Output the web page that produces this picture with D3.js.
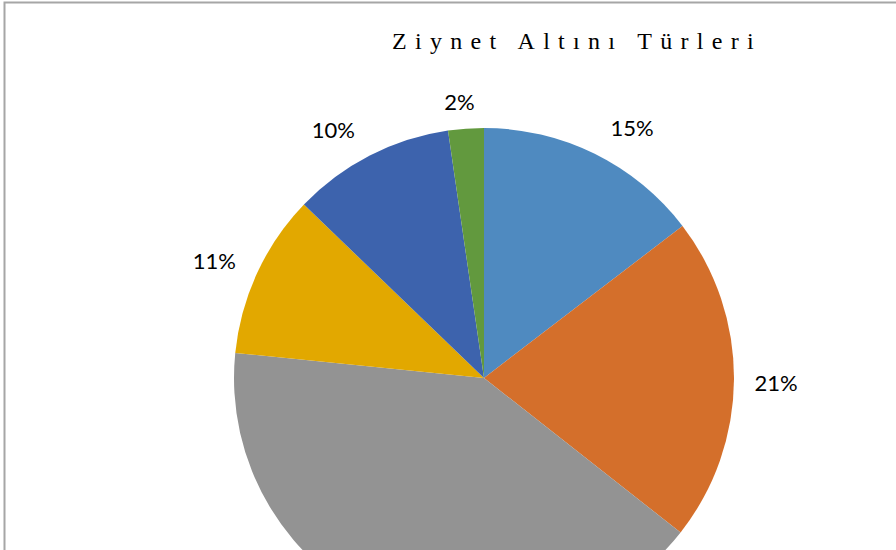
<!DOCTYPE html>
<html><head><meta charset="utf-8">
<script src="https://cdn.jsdelivr.net/npm/d3@7/dist/d3.min.js"></script>
<style>html,body{margin:0;padding:0;background:#fff;overflow:hidden}</style>
</head><body>
<svg id="c" width="896" height="550"></svg>
<script>
const title = "Ziynet Altını Türleri";
const categories = ["A","B","C","D","E","F"];
const values = [14.6, 21.0, 41.0, 10.6, 10.5, 2.3];
const labels = ["15%","21%","41%","11%","10%","2%"];
const colors = ["#4F8AC0","#D46F2B","#939393","#E2A800","#3D63AD","#62993E"];

const W = 896, H = 550;
const svg = d3.select("#c");
svg.append("path").attr("d","M4.5,550 V2.5 H896").attr("fill","none").attr("stroke","#a6a6a6").attr("stroke-width",2);

const cx = 484, cy = 378, r = 250;
const pie = d3.pie().sort(null).value(d=>d)(values);
const arc = d3.arc().innerRadius(0).outerRadius(r);
const g = svg.append("g").attr("transform",`translate(${cx},${cy})`);
g.selectAll("path").data(pie).join("path").attr("d",arc).attr("fill",(d,i)=>colors[i]);

// label placement: [radius, angle shift in radians] per slice (Excel best-fit look)
const labelOffsets = [[291,0.075],[292,0.01],[290,0],[294,-0.024],[291,-0.07],[278,-0.016]];
const lab = pie.map((d,i)=>{
  const a = (d.startAngle+d.endAngle)/2 + labelOffsets[i][1];
  const rr = labelOffsets[i][0];
  return {x: cx+rr*Math.sin(a), y: cy-rr*Math.cos(a), t: labels[i]};
}).filter(p => p.y < H - 15); // labels that fall below the visible area are clipped, as in the source
svg.append("g").selectAll("text").data(lab).join("text")
  .attr("x",d=>d.x).attr("y",d=>d.y)
  .attr("text-anchor","middle").attr("dominant-baseline","central")
  .attr("font-family","Lato, 'Open Sans', sans-serif").attr("font-size",22).attr("fill","#000")
  .text(d=>d.t);

svg.append("text").attr("x",577).attr("y",49).attr("text-anchor","middle")
  .attr("font-family","'Liberation Serif', 'Times New Roman', serif").attr("font-size",24)
  .attr("letter-spacing","8.3px").attr("fill","#000").text(title);
</script>
</body></html>
